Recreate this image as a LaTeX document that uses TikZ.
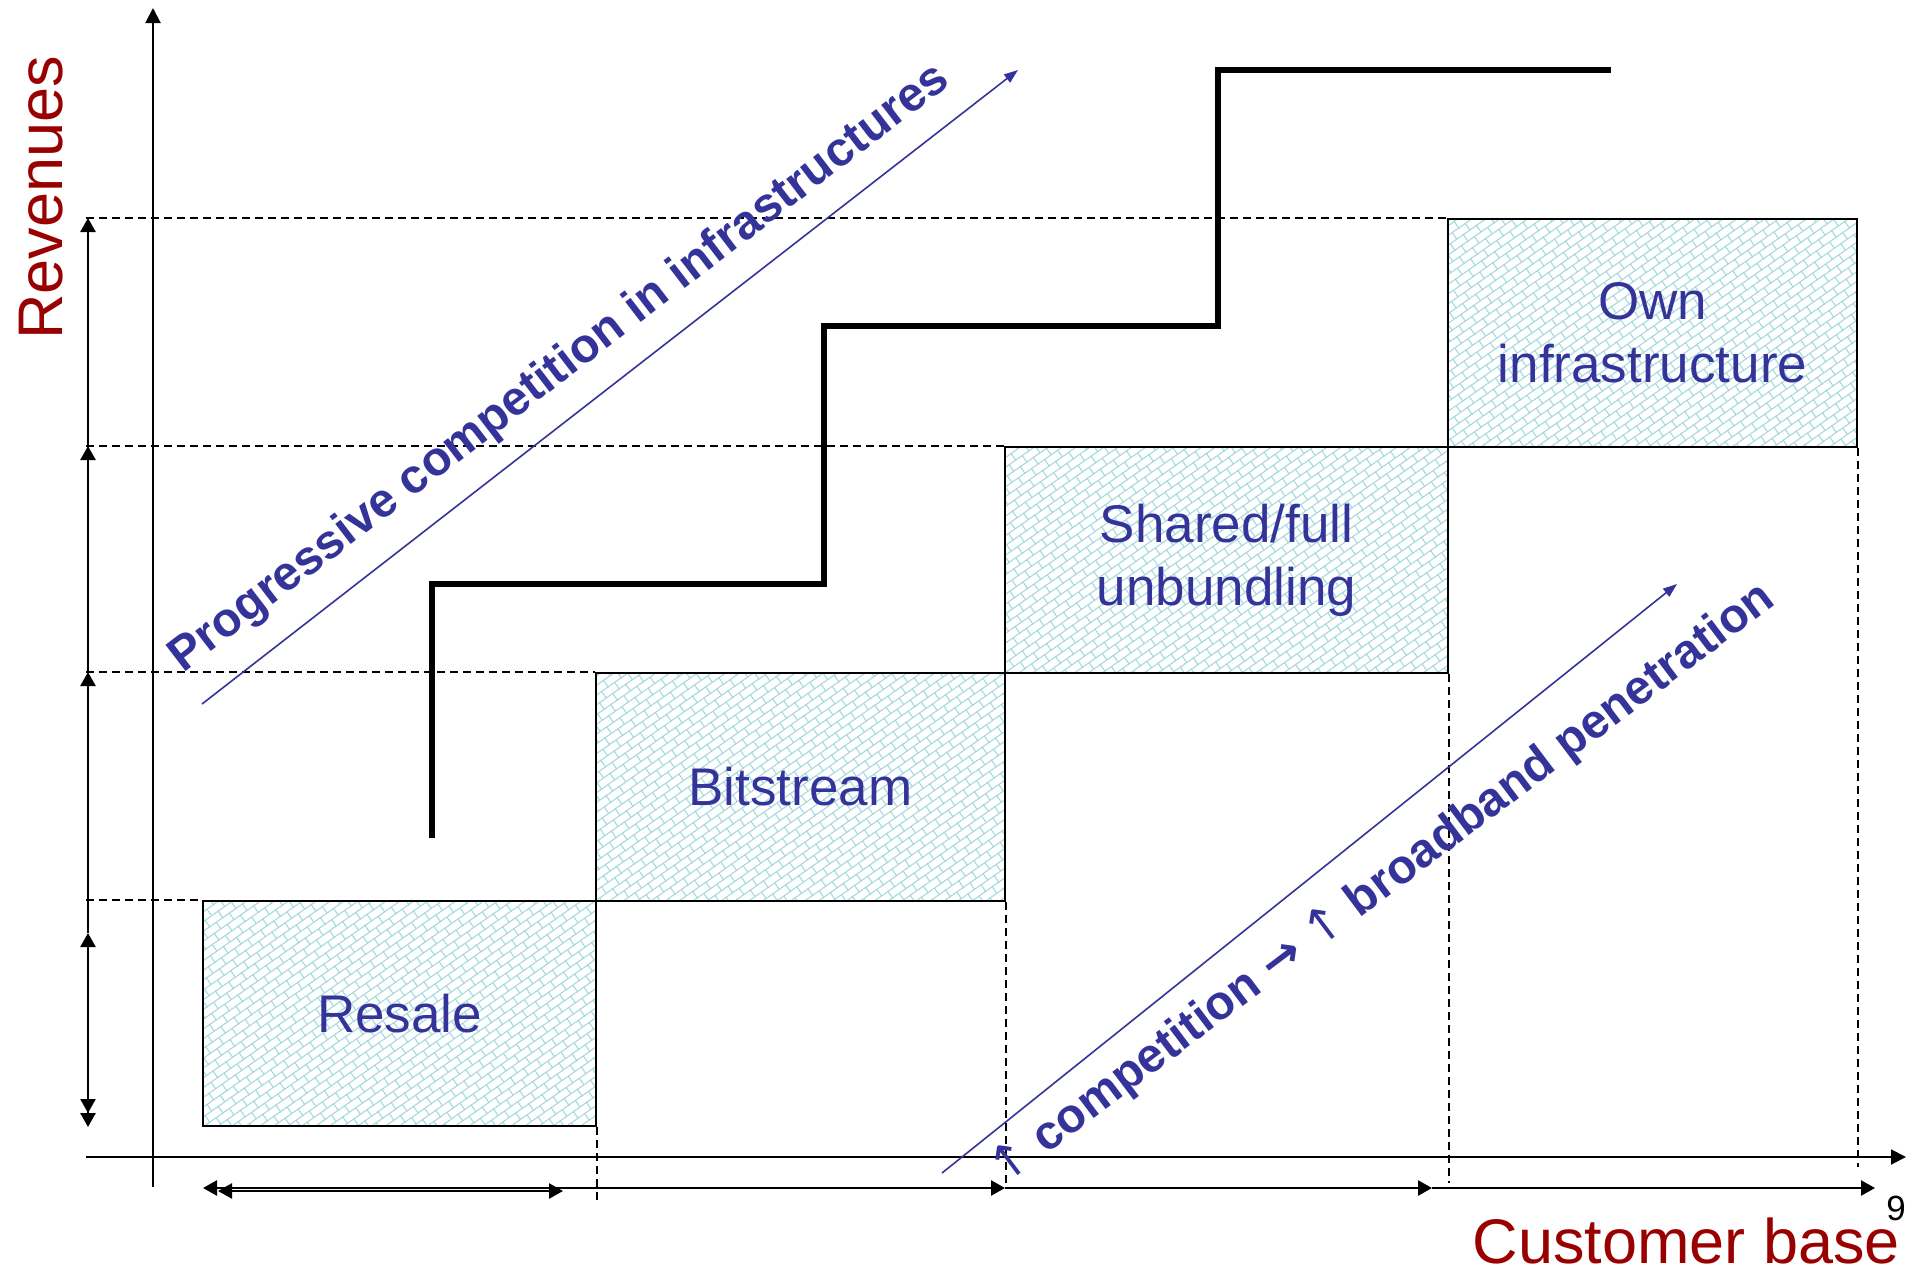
\documentclass[tikz,border=0pt]{standalone}
\usepackage{fontspec}
\setmainfont{Liberation Sans}
\newfontfamily\arrowfont{DejaVu Sans}
\usetikzlibrary{arrows.meta,patterns.meta}

\definecolor{txtblue}{HTML}{333399}
\definecolor{axred}{HTML}{990000}
\definecolor{brickcol}{RGB}{165,218,222}

\pgfdeclarepattern{
  name=diagbricks,
  type=uncolored,
  bottom left={\pgfpoint{-1pt}{-1pt}},
  top right={\pgfpoint{17pt}{17pt}},
  tile size={\pgfpoint{16pt}{16pt}},
  tile transformation={\pgftransformrotate{35}},
  code={
    \pgfsetlinewidth{1.1pt}
    \pgfpathmoveto{\pgfpoint{-1pt}{0pt}}\pgfpathlineto{\pgfpoint{17pt}{0pt}}
    \pgfpathmoveto{\pgfpoint{-1pt}{8pt}}\pgfpathlineto{\pgfpoint{17pt}{8pt}}
    \pgfpathmoveto{\pgfpoint{0pt}{0pt}}\pgfpathlineto{\pgfpoint{0pt}{8pt}}
    \pgfpathmoveto{\pgfpoint{8pt}{8pt}}\pgfpathlineto{\pgfpoint{8pt}{16pt}}
    \pgfusepath{stroke}
  }
}

\tikzset{
  axisline/.style={line width=2pt, -{Triangle[length=15pt,width=15pt]}},
  guide/.style={line width=1.6pt, dash pattern=on 8pt off 5pt},
  stagebox/.style={draw, line width=2pt, pattern=diagbricks, pattern color=brickcol,
    inner sep=0pt, text=txtblue, font=\fontsize{53}{63}\selectfont, align=center},
  stair/.style={line width=6.5pt, line join=miter},
  trend/.style={draw=txtblue, line width=1.6pt, -{Triangle[length=14pt,width=10pt]}},
  trendlabel/.style={text=txtblue, font=\fontsize{48}{56}\selectfont\bfseries, rotate=37.5, inner sep=0pt},
  dimline/.style={line width=2.5pt},
  dimtip/.style={dimline, -{Triangle[length=14pt,width=15pt]}},
  axlabel/.style={text=axred, font=\fontsize{63}{70}\selectfont, inner sep=0pt},
}

\begin{document}
\begin{tikzpicture}[x=1pt,y=-1pt]
\useasboundingbox (0,0) rectangle (1919,1269);

% stage boxes
\node[stagebox, minimum width=393pt, minimum height=225pt] (resale) at (399.5,1013.5) {Resale};
\node[stagebox, minimum width=409pt, minimum height=228pt] (bit) at (800.5,787) {Bitstream};
\node[stagebox, minimum width=443pt, minimum height=226pt] (shared) at (1226.5,560) {Shared/full\\unbundling};
\node[stagebox, minimum width=409pt, minimum height=228pt] (own) at (1652.5,333) {Own\\infrastructure};

% helper coordinates
\coordinate (gl) at (86,0);
\coordinate (L) at (88,0);
\coordinate (xo) at (86,1157);
\coordinate (xe) at (1906,1157);
\coordinate (yo) at (153,1187);
\coordinate (ye) at (153,8);

% dashed guides
\draw[guide] (gl |- own.north) -- (own.north west);
\draw[guide] (gl |- shared.north) -- (shared.north west);
\draw[guide] (gl |- bit.north) -- (bit.north west);
\draw[guide] (gl |- resale.north) -- (resale.north west);
\draw[guide] (resale.south east) -- (resale.south east |- 0,1200);
\draw[guide] (bit.south east) -- (bit.south east |- 0,1185);
\draw[guide] (shared.south east) -- (shared.south east |- 0,1183);
\draw[guide] (own.south east) -- (own.south east |- 0,1167);

% axes
\draw[axisline] (xo) -- (xe);
\draw[axisline] (yo) -- (ye);

% left dimension arrows
\draw[dimtip] (L |- shared.north) -- (L |- own.north);
\draw[dimtip] (L |- bit.north) -- (L |- shared.north);
\draw[dimtip] (L |- resale.north) -- (L |- bit.north);
\coordinate (lb1) at (88,933);
\coordinate (lb2) at (88,1127);
\draw[dimline] (L |- resale.north) -- (lb1);
\draw[dimline, {Triangle[length=14pt,width=15pt]}-{Triangle[length=14pt,width=15pt]Triangle[length=14pt,width=15pt]}] (lb1) -- (lb2);

% bottom dimension arrows
\coordinate (b0) at (203,1188);
\coordinate (b1) at (1005,1188);
\coordinate (b2) at (1432,1188);
\coordinate (b3) at (1875,1188);
\coordinate (c0) at (218,1191);
\coordinate (c1) at (563,1191);
\draw[dimline, {Triangle[length=14pt,width=15pt]}-{Triangle[length=14pt,width=15pt]}] (b0) -- (b1);
\draw[dimline, {Triangle[length=14pt,width=15pt]}-{Triangle[length=14pt,width=15pt]}] (c0) -- (c1);
\draw[dimtip] (b1) -- (b2);
\draw[dimtip] (b2) -- (b3);

% staircase
\coordinate (s0) at (432,838);
\coordinate (s1) at (1611,70);
\draw[stair] (s0) -- (432,584) -- (824,584) -- (824,326) -- (1218,326) -- (1218,70) -- (s1);

% trend arrows
\coordinate (t1a) at (202,704);
\coordinate (t1b) at (1018,70);
\coordinate (t2a) at (942,1173);
\coordinate (t2b) at (1677,584);
\draw[trend] (t1a) -- (t1b);
\draw[trend] (t2a) -- (t2b);

\node[trendlabel] (lab1) at (560,369) {Progressive competition in infrastructures};
\node[trendlabel, rotate=-0.5] (lab2) at (1383,885) {{\arrowfont\mdseries ↑} competition {\arrowfont\bfseries →} {\arrowfont\mdseries ↑} broadband penetration};

% axis labels
\node[axlabel, rotate=90, anchor=base] (rev) at (62,198) {Revenues};
\node[axlabel, anchor=base east] (cust) at (1900,1263) {Customer base};
\node[font=\fontsize{35}{40}\selectfont, anchor=base east, inner sep=0pt] (pg) at (1906,1220) {9};
\end{tikzpicture}
\end{document}
